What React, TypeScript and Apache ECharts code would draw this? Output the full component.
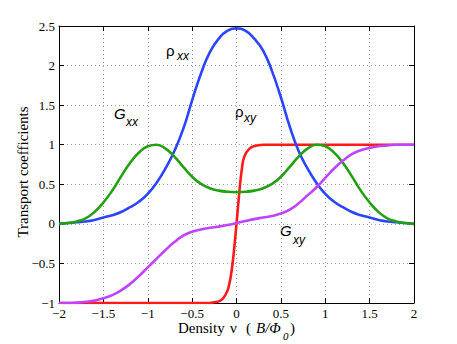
import React, { useEffect, useRef } from "react";
import * as echarts from "echarts";

const xs = [-2, -1.9, -1.8, -1.7, -1.6, -1.5, -1.4, -1.3, -1.2, -1.1, -1, -0.9, -0.8, -0.7, -0.6, -0.5, -0.4, -0.3, -0.2, -0.1, 0, 0.1, 0.2, 0.3, 0.4, 0.5, 0.6, 0.7, 0.8, 0.9, 1, 1.1, 1.2, 1.3, 1.4, 1.5, 1.6, 1.7, 1.8, 1.9, 2];

const rhoXX = [0.0, 0.01, 0.02, 0.03, 0.05, 0.08, 0.11, 0.15, 0.21, 0.28, 0.38, 0.52, 0.7, 0.92, 1.2, 1.56, 1.9, 2.17, 2.34, 2.44, 2.47, 2.44, 2.34, 2.19, 1.93, 1.6, 1.23, 0.92, 0.7, 0.52, 0.38, 0.28, 0.21, 0.15, 0.11, 0.08, 0.05, 0.03, 0.02, 0.01, 0.0];

const gXX = [0.0, 0.01, 0.03, 0.07, 0.15, 0.27, 0.42, 0.6, 0.77, 0.9, 0.98, 1.0, 0.95, 0.85, 0.72, 0.595, 0.505, 0.45, 0.42, 0.405, 0.4, 0.405, 0.42, 0.45, 0.505, 0.595, 0.72, 0.85, 0.95, 1.0, 0.98, 0.9, 0.77, 0.6, 0.42, 0.27, 0.15, 0.07, 0.03, 0.01, 0.0];

const gXY = [-1.0, -1.0, -0.995, -0.985, -0.97, -0.94, -0.9, -0.84, -0.76, -0.66, -0.55, -0.44, -0.33, -0.23, -0.15, -0.1, -0.07, -0.05, -0.035, -0.015, 0.01, 0.035, 0.06, 0.08, 0.1, 0.13, 0.18, 0.26, 0.36, 0.46, 0.58, 0.7, 0.8, 0.88, 0.93, 0.96, 0.98, 0.99, 1.0, 1.0, 1.0];

const xsRho = [-2, -0.4, -0.3, -0.25, -0.2, -0.15, -0.1, -0.07, -0.05, -0.03, 0, 0.03, 0.05, 0.075, 0.1, 0.13, 0.17, 0.23, 0.3, 0.4, 2];
const rhoXY = [-1, -1, -1, -0.99, -0.98, -0.94, -0.84, -0.7, -0.55, -0.36, 0, 0.38, 0.6, 0.8, 0.88, 0.93, 0.97, 0.99, 1, 1, 1];

const xTicks = [-2, -1.5, -1, -0.5, 0, 0.5, 1, 1.5, 2];
const yTicks = [-1, -0.5, 0, 0.5, 1, 1.5, 2, 2.5];

const fmt = (v: number) => (v < 0 ? "\u2212" + String(-v) : String(v));

const pairs = (x: number[], y: number[]) => x.map((v, i) => [v, y[i]]);

export default function App() {
  const ref = useRef<HTMLDivElement>(null);
  useEffect(() => {
    const chart = echarts.init(ref.current!, undefined, { renderer: "svg" });
    const serif = "Liberation Serif";
    const sans = "Liberation Sans";
    const tickLabel = { fontFamily: serif, fontSize: 13, color: "#000" };
    const grid = { left: 59, right: 43, top: 26, bottom: 41 };
    const line = (name: string, data: number[][], color: string, z: number, smooth: any) => ({
      name,
      type: "line",
      data,
      showSymbol: false,
      smooth,
      lineStyle: { color, width: 2.6 },
      z,
    });
    const frame = (position: string) => ({
      type: "value",
      min: 0,
      max: 1,
      position,
      axisLine: { show: true, onZero: false, lineStyle: { color: "#000", width: 1 } },
      axisTick: { show: true, inside: true, length: 5, lineStyle: { color: "#000" } },
      axisLabel: { show: false },
      splitLine: { show: false },
    });
    chart.setOption({
      animation: false,
      grid,
      xAxis: [
        {
          type: "value",
          min: xTicks[0],
          max: xTicks[xTicks.length - 1],
          interval: 0.5,
          position: "bottom",
          axisLine: { show: true, onZero: false, lineStyle: { color: "#000", width: 1 } },
          axisTick: { show: true, inside: true, length: 5, lineStyle: { color: "#000" } },
          axisLabel: { ...tickLabel, margin: 4, formatter: fmt },
          splitLine: { show: true, lineStyle: { color: "#9a9a9a", type: [1, 3], width: 1 } },
        },
        {
          ...frame("top"),
          min: xTicks[0],
          max: xTicks[xTicks.length - 1],
          interval: 0.5,
        },
      ],
      yAxis: [
        {
          type: "value",
          min: yTicks[0],
          max: yTicks[yTicks.length - 1],
          interval: 0.5,
          position: "left",
          axisLine: { show: true, onZero: false, lineStyle: { color: "#000", width: 1 } },
          axisTick: { show: true, inside: true, length: 5, lineStyle: { color: "#000" } },
          axisLabel: { ...tickLabel, margin: 4, formatter: fmt },
          splitLine: { show: true, lineStyle: { color: "#9a9a9a", type: [1, 3], width: 1 } },
        },
        {
          ...frame("right"),
          min: yTicks[0],
          max: yTicks[yTicks.length - 1],
          interval: 0.5,
        },
      ],
      series: [
        line("rho_xy", pairs(xsRho, rhoXY), "#ff1a1a", 3, 0.3),
        line("rho_xx", pairs(xs, rhoXX), "#2b45ff", 4, 0.5),
        line("G_xx", pairs(xs, gXX), "#22a010", 5, 0.5),
        line("G_xy", pairs(xs, gXY), "#c044ff", 6, 0.5),
      ],
      graphic: [
        { type: "text", left: 166, top: 43, style: { text: "ρ", font: `15px ${sans}`, fill: "#000" } },
        { type: "text", left: 177, top: 50, style: { text: "xx", font: `italic 12px ${sans}`, fill: "#000" } },
        { type: "text", left: 114, top: 106, style: { text: "G", font: `italic 15px ${sans}`, fill: "#000" } },
        { type: "text", left: 126, top: 116, style: { text: "xx", font: `italic 12px ${sans}`, fill: "#000" } },
        { type: "text", left: 235, top: 104, style: { text: "ρ", font: `15px ${sans}`, fill: "#000" } },
        { type: "text", left: 244, top: 112, style: { text: "xy", font: `italic 12px ${sans}`, fill: "#000" } },
        { type: "text", left: 280, top: 223, style: { text: "G", font: `italic 15px ${sans}`, fill: "#000" } },
        { type: "text", left: 293, top: 234, style: { text: "xy", font: `italic 12px ${sans}`, fill: "#000" } },
        {
          type: "text",
          x: 23,
          y: 172,
          rotation: Math.PI / 2,
          style: {
            text: "Transport coefficients",
            font: `15px ${serif}`,
            fill: "#000",
            align: "center",
            verticalAlign: "middle",
          },
        },
        { type: "text", left: 178, top: 320, style: { text: "Density", font: `15px ${serif}`, fill: "#000" } },
        { type: "text", left: 230, top: 320, style: { text: "ν", font: `15px ${serif}`, fill: "#000" } },
        { type: "text", left: 246, top: 320, style: { text: "(", font: `15px ${serif}`, fill: "#000" } },
        { type: "text", left: 256, top: 320, style: { text: "B/Φ", font: `italic 15px ${serif}`, fill: "#000" } },
        { type: "text", left: 283, top: 330, style: { text: "0", font: `italic 11px ${serif}`, fill: "#000" } },
        { type: "text", left: 290, top: 320, style: { text: ")", font: `15px ${serif}`, fill: "#000" } },
      ],
    });
    return () => chart.dispose();
  }, []);
  return <div ref={ref} style={{ position: "absolute", left: 0, top: 0, width: 457, height: 344 }} />;
}
